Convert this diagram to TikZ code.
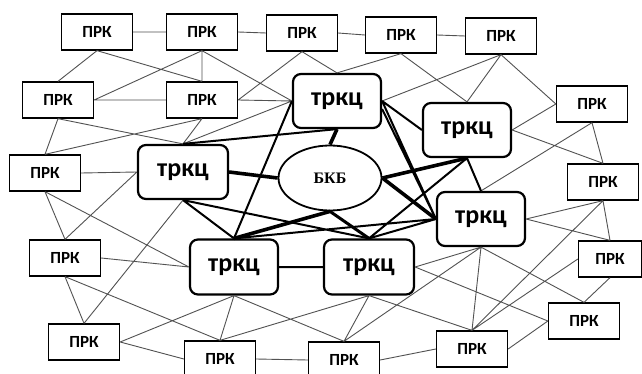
\documentclass[tikz,border=0pt]{standalone}
\usepackage{fontspec}
\setmainfont{Carlito}
\newfontfamily\bkbfont{Liberation Serif}
\usetikzlibrary{shapes.geometric}
\begin{document}
\begin{tikzpicture}[x=1pt,y=-1pt,
  prk/.style={draw, line width=1.3pt, minimum width=71pt, minimum height=36pt, inner sep=0pt, fill=white,
    font=\fontsize{17}{17}\selectfont\bfseries},
  trkc/.style={draw, line width=2.2pt, rounded corners=8pt, minimum width=88pt, minimum height=54pt, inner sep=0pt, fill=white,
    font=\fontsize{26}{26}\selectfont\bfseries},
  bkb/.style={ellipse, draw, line width=1.8pt, minimum width=103pt, minimum height=65pt, inner sep=0pt, fill=white,
    font=\bkbfont\fontsize{16}{16}\selectfont\bfseries},
  ln/.style={draw=black!68, line width=0.9pt},
  tk/.style={draw=black, line width=2pt},
  vtk/.style={draw=black, line width=3.6pt},
]
\useasboundingbox (0,0) rectangle (642,374);
\clip (0,0) rectangle (642,374);
\fill[white] (0,0) rectangle (642,374);

% PRK nodes
\node[prk] (P1) at (97,32) {ПРК};
\node[prk] (P2) at (202,32) {ПРК};
\node[prk] (P3) at (302,33) {ПРК};
\node[prk] (P4) at (401,35) {ПРК};
\node[prk] (P5) at (501,36) {ПРК};
\node[prk] (P6) at (58,100) {ПРК};
\node[prk] (P7) at (202,100) {ПРК};
\node[prk] (P8) at (592,104) {ПРК};
\node[prk] (P9) at (45,173) {ПРК};
\node[prk] (P10) at (603,182) {ПРК};
\node[prk] (P11) at (65,258) {ПРК};
\node[prk, minimum width=63pt] (P12) at (610,259) {ПРК};
\node[prk] (P13) at (84,342) {ПРК};
\node[prk] (P14) at (220,359) {ПРК};
\node[prk] (P15) at (344,360) {ПРК};
\node[prk] (P16) at (472,349) {ПРК};
\node[prk] (P17) at (584,321) {ПРК};

% TRKC nodes
\node[trkc] (T1) at (337,101) {тркц};
\node[trkc] (T2) at (467,130) {тркц};
\node[trkc, minimum width=90pt] (T3) at (183,172) {тркц};
\node[trkc] (T4) at (481,219) {тркц};
\node[trkc, minimum height=55pt] (T5) at (234,267) {тркц};
\node[trkc, minimum width=90pt, minimum height=55pt] (T6) at (369,267) {тркц};
\node[bkb] (B) at (330,178) {БКБ};

% thin connectors
\draw[ln] (P1.east)--(P2.west) (P2.east)--(P3.west) (P3.east)--(P4.west) (P4.east)--(P5.west)
  (P1.south)--(P6.north) (P1.south)--(P7.north) (P2.south)--(P6.east) (P2.south)--(P7.north) (P2.south)--(T1.west)
  (P3.south)--(P7.east) (P3.south)--(T1.north) (P4.south)--(T1.north) (P4.south)--(T2.north)
  (P5.south)--(T1.east) (P5.south)--(T2.north) (P5.south)--(P8.west)
  (P6.east)--(P7.west) (P7.east)--(T1.west)
  (P6.south)--(P9.north) (P6.south)--(T3.north) (P7.south)--(P9.north) (P7.south)--(T3.north) (T3.north)--(T1.west)
  (P9.east)--(T3.west) (P9.south)--(P11.north) (P9.south)--(T5.west) (T3.west)--(P11.north) (T3.south)--(P13.north)
  (P11.east)--(T5.west) (P11.south)--(P13.north) (P11.south)--(P14.north)
  (P13.east)--(T5.south) (P13.east)--(P14.west) (T5.south)--(P14.north) (T5.south)--(P15.north)
  (P14.north)--(T6.south) (P14.east)--(P15.west) (P15.east)--(P16.west)
  (T6.south)--(P15.north) (T6.south)--(P16.north) (T6.east)--(T4.south) (T6.east)--(P17.west)
  (T4.south)--(P15.north) (T4.south)--(P16.north) (T4.south)--(P17.north)
  (T4.east)--(P10.south) (T4.east)--(P12.north) (P10.south)--(P16.north) (P12.west)--(P16.north)
  (P12.south)--(P17.north) (P16.east)--(P17.west)
  (P8.west)--(T2.east) (T2.east)--(P10.north) (P8.south)--(T4.north) (P8.south)--(P10.north) (P10.south)--(P12.north);

% thick TRKC-TRKC connectors
\draw[tk] (T1.east)--(T2.west) (T1.east)--(T4.west) (T1.-10)--(T4.west)
  (T1.west)--(T5.north) (T3.north)--(T1.south)
  (T3.south)--(T5.north) (T3.south)--(T6.north)
  (T2.south)--(T4.north) (T2.south)--(T6.north)
  (T4.west)--(T6.north) (T4.west)--(T5.north) (T5.east)--(T6.west);

% very thick BKB connectors
\draw[vtk] (B.north)--(T1.south) (B.west)--(T3.east) (B.east)--(T2.south) (B.east)--(T4.west) (B.south)--(T5.north);
\draw[vtk, line width=3pt] (B.south)--(T6.north);
\end{tikzpicture}
\end{document}
